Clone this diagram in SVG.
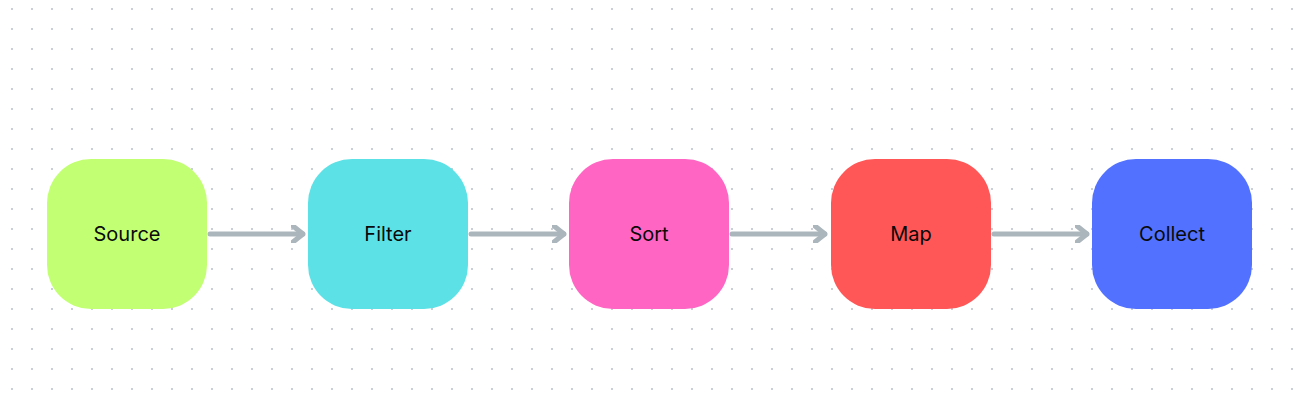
<svg xmlns="http://www.w3.org/2000/svg" width="1293" height="406" viewBox="0 0 1293 406">
<defs>
<pattern id="dots" x="11" y="8" width="20" height="20" patternUnits="userSpaceOnUse">
<rect x="0" y="0" width="2" height="2" fill="#c9ced7"/>
</pattern>
<marker id="chev" viewBox="0 0 14 18" refX="12" refY="9" markerWidth="14" markerHeight="18" markerUnits="userSpaceOnUse" orient="auto">
<path d="M2 1 L12 9 L2 17" fill="none" stroke="#abb5bc" stroke-width="5" stroke-linecap="round" stroke-linejoin="round"/>
</marker>
</defs>
<style>
.node rect{stroke:none}
.node text{font-family:Inter,"Open Sans","Liberation Sans",sans-serif;font-size:20px;fill:#0a0a0a;text-anchor:middle;dominant-baseline:central}
.conn line{stroke:#abb5bc;stroke-width:5;stroke-linecap:round;fill:none}
</style>
<rect width="1293" height="406" fill="#ffffff"/>
<rect width="1293" height="406" fill="url(#dots)"/>
<g id="connectors" class="conn">
<line x1="210" y1="234" x2="303" y2="234" marker-end="url(#chev)"/>
<line x1="471" y1="234" x2="564" y2="234" marker-end="url(#chev)"/>
<line x1="732" y1="234" x2="825" y2="234" marker-end="url(#chev)"/>
<line x1="994" y1="234" x2="1087" y2="234" marker-end="url(#chev)"/>
</g>
<g id="source" class="node"><rect x="47" y="159" width="160" height="150" rx="44" fill="#c2ff72"/><text x="127" y="234">Source</text></g>
<g id="filter" class="node"><rect x="308" y="159" width="160" height="150" rx="44" fill="#5ce1e6"/><text x="388" y="234">Filter</text></g>
<g id="sort" class="node"><rect x="569" y="159" width="160" height="150" rx="44" fill="#ff66c4"/><text x="649" y="234">Sort</text></g>
<g id="map" class="node"><rect x="831" y="159" width="160" height="150" rx="44" fill="#ff5757"/><text x="911" y="234">Map</text></g>
<g id="collect" class="node"><rect x="1092" y="159" width="160" height="150" rx="44" fill="#5271ff"/><text x="1172" y="234">Collect</text></g>
</svg>
